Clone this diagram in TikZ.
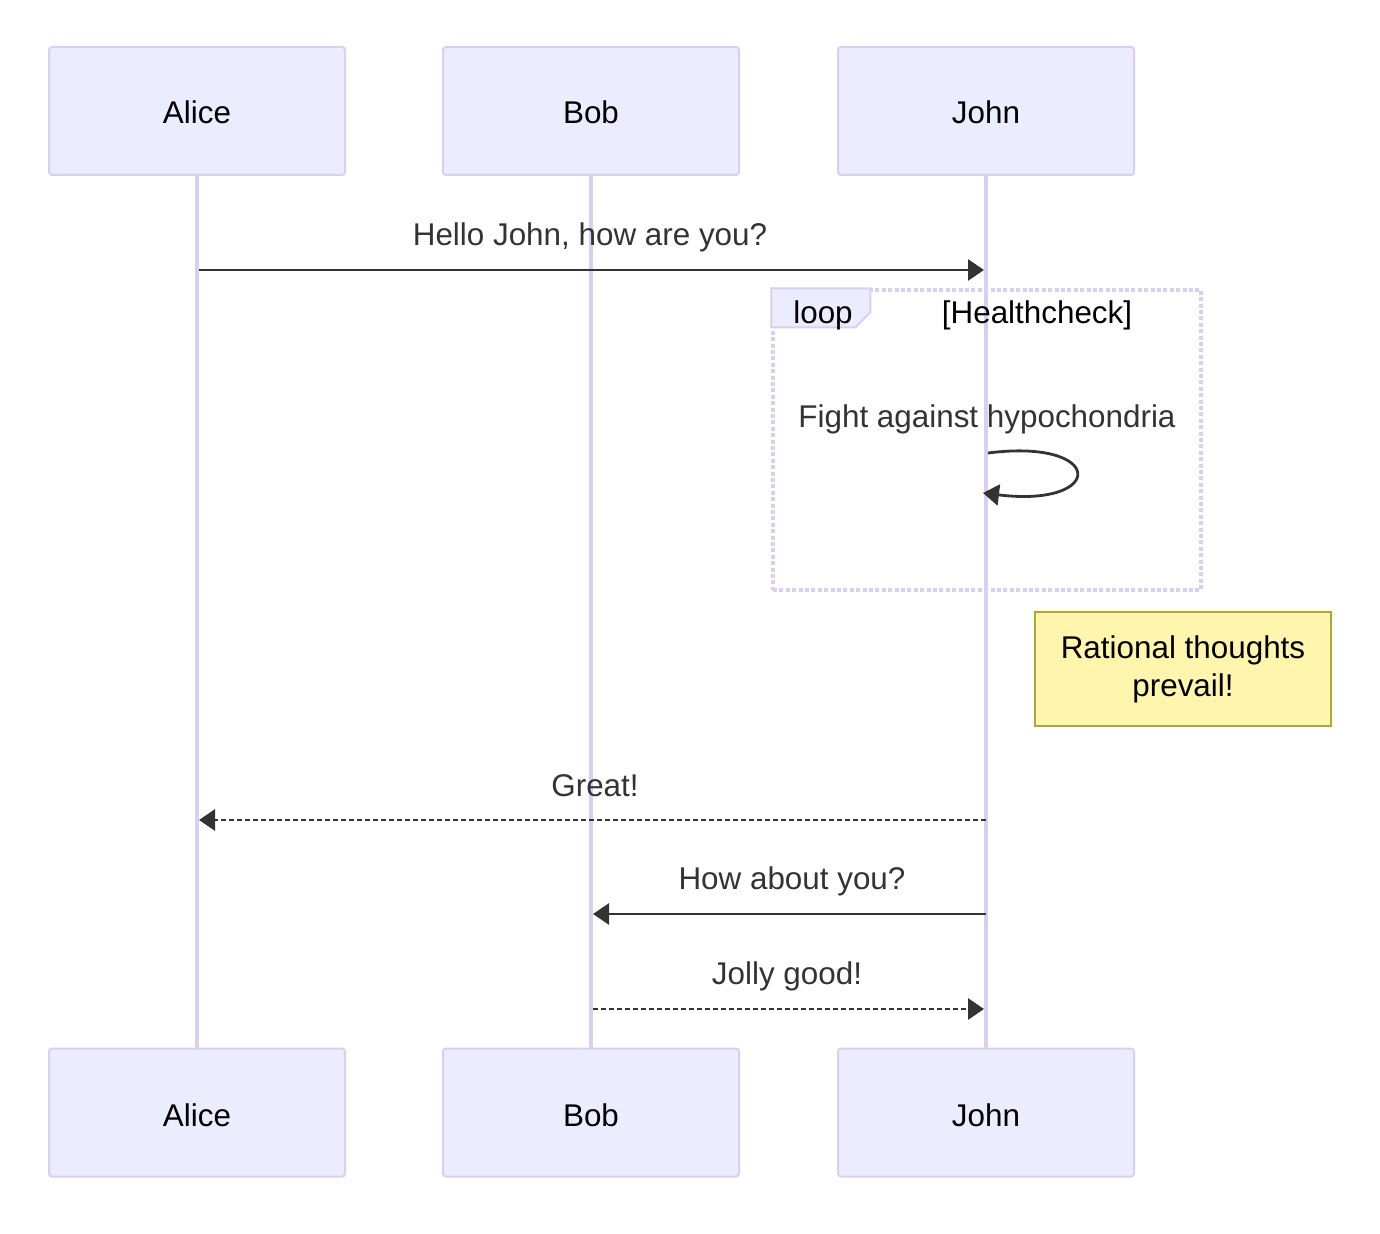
\documentclass[tikz,border=0pt]{standalone}
\usepackage{fontspec}
\setmainfont{Liberation Sans}
\usetikzlibrary{arrows.meta}
\definecolor{actfill}{HTML}{ECECFF}
\definecolor{actline}{HTML}{D9CFF3}
\definecolor{msgcol}{HTML}{333333}
\definecolor{notefill}{HTML}{FFF5AD}
\definecolor{noteline}{HTML}{AAAA33}
\begin{document}
\begin{tikzpicture}[x=0.5pt,y=-0.5pt,
  font=\fontsize{15.7}{19}\selectfont,
  actor/.style={draw=actline, fill=actfill, line width=1pt, rounded corners=1.5pt,
    minimum width=148pt, minimum height=64pt, inner sep=0pt},
  actortext/.style={anchor=base, inner sep=0pt, text=black},
  lifeline/.style={draw=actline, line width=1.7pt},
  msgtext/.style={anchor=base, inner sep=0pt, text=msgcol},
  msgline/.style={draw=msgcol, line width=1.4pt, -{Triangle[length=8pt,width=10.5pt]}},
  reply/.style={msgline, dash pattern=on 2.5pt off 1.5pt},
  loopframe/.style={draw=actline, line width=1.6pt, dash pattern=on 2pt off 1.2pt,
    minimum width=214pt, minimum height=150pt, inner sep=0pt},
  looptag/.style={draw=actline, fill=actfill, line width=1pt},
  notebox/.style={draw=noteline, fill=notefill, line width=1pt,
    minimum width=148pt, minimum height=57pt, inner sep=0pt, align=center, text=black}
]
\useasboundingbox[fill=white] (0,0) rectangle (1380,1234);

% participants, top and bottom
\node[actor] (aliceT) at (197,111) {};
\node[actor] (bobT)   at (591,111) {};
\node[actor] (johnT)  at (986,111) {};
\node[actor] (aliceB) at (197,1112.5) {};
\node[actor] (bobB)   at (591,1112.5) {};
\node[actor] (johnB)  at (986,1112.5) {};
\node[actortext] (aliceTl) at (197,124) {Alice};
\node[actortext] (bobTl)   at (591,124) {Bob};
\node[actortext] (johnTl)  at (986,124) {John};
\node[actortext] (aliceBl) at (197,1126) {Alice};
\node[actortext] (bobBl)   at (591,1126) {Bob};
\node[actortext] (johnBl)  at (986,1126) {John};

% lifelines
\draw[lifeline] (aliceT.south) -- (aliceB.north);
\draw[lifeline] (bobT.south) -- (bobB.north);
\draw[lifeline] (johnT.south) -- (johnB.north);

% loop frame with its tag
\node[loopframe] (loop) at (987,440) {};
\draw[looptag] (loop.north west) -- ++(99,0) -- ++(0,24) -- ++(-15,15) -- ++(-84,0) -- cycle;
\node[actortext] (looplbl) at (823,324) {loop};
\node[actortext] (loopcond) at (1037,324) {[Healthcheck]};

% message endpoints on the lifelines
\coordinate (m1s) at (199,270);  \coordinate (m1e) at (984,270);
\coordinate (s1s) at (988,453);  \coordinate (s1e) at (983,493);
\coordinate (m2s) at (986,820);  \coordinate (m2e) at (199,820);
\coordinate (m3s) at (986,914);  \coordinate (m3e) at (593,914);
\coordinate (m4s) at (593,1009); \coordinate (m4e) at (984,1009);

% messages
\node[msgtext] (m1t) at (590,246) {Hello John, how are you?};
\draw[msgline] (m1s) -- (m1e);

\node[msgtext] (s1t) at (987,428) {Fight against hypochondria};
\draw[msgline] (s1s) .. controls (1106,438) and (1106,508) .. (s1e);

\node[notebox] (note) at (1183,669) {Rational thoughts\\prevail!};

\node[msgtext] (m2t) at (595,796) {Great!};
\draw[reply] (m2s) -- (m2e);

\node[msgtext] (m3t) at (792,889) {How about you?};
\draw[msgline] (m3s) -- (m3e);

\node[msgtext] (m4t) at (787,984) {Jolly good!};
\draw[reply] (m4s) -- (m4e);
\end{tikzpicture}
\end{document}
